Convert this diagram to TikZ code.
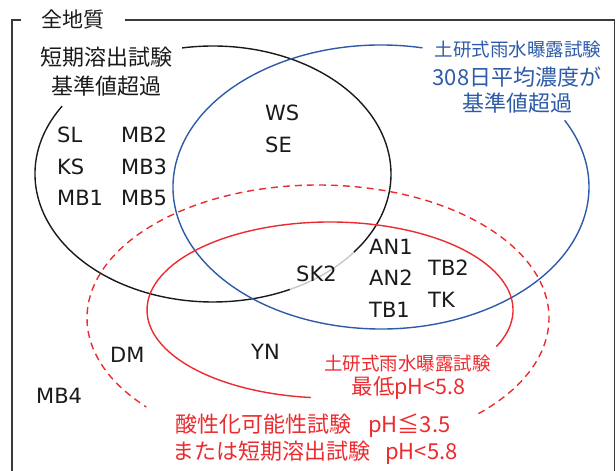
\documentclass[tikz,border=0pt]{standalone}
\usepackage{fontspec}
\setmainfont{DejaVu Sans}
\newfontfamily\cjkfont{Noto Sans CJK JP}
\definecolor{inkblack}{HTML}{1A1A1A}
\definecolor{framegray}{HTML}{3A3A3A}
\definecolor{rainblue}{HTML}{2E5BA8}
\definecolor{acidred}{HTML}{EC2B2F}
\definecolor{fadegray}{HTML}{C8C8C8}
\begin{document}
\begin{tikzpicture}[x=1pt,y=1pt,every node/.style={inner sep=0pt,text=inkblack},
  site/.style={anchor=west,font=\fontsize{21}{25}\selectfont},
  jp/.style={font=\cjkfont\fontsize{#1}{#1}\selectfont},
  ring/.style={line width=1.4pt}]
\useasboundingbox (0,0) rectangle (616,471);
% frame with title
\node[jp=21,inner xsep=20pt] (all) at (73,451) {全地質};
\draw[framegray,line width=1.5pt] (all.west) -- (12,451) -- (12,-2);
\draw[framegray,line width=1.5pt] (all.east) -- (614.5,451) -- (614.5,-2);
% short-term leaching set (black)
\draw[ring,inkblack] ([shift={(-37.7:178 and 128)}]213,297) arc[start angle=-37.7,end angle=100,x radius=178,y radius=128];
\draw[ring,inkblack] ([shift={(148:178 and 128)}]213,297) arc[start angle=148,end angle=295.6,x radius=178,y radius=128];
\draw[ring,fadegray] ([shift={(-64.4:178 and 128)}]213,297) arc[start angle=-64.4,end angle=-37.7,x radius=178,y radius=128];
% rain exposure 308-day mean (blue)
\draw[ring,rainblue] ([shift={(78.5:208 and 142)}]381,284) arc[start angle=78.5,end angle=388,x radius=208,y radius=142];
% rain exposure minimum pH (red)
\draw[ring,acidred] ([shift={(-24.6:183 and 88)}]330,161) arc[start angle=-24.6,end angle=264,x radius=183,y radius=88];
% acidification potential (red, dashed)
\draw[ring,acidred,dash pattern=on 7pt off 5pt] ([shift={(-46:231 and 133)}]318,153) arc[start angle=-46,end angle=222,x radius=231,y radius=133];
% set labels
\node[jp=22] (shortA) at (106,414) {短期溶出試験};
\node[jp=22] (shortB) at (106,385) {基準値超過};
\node[jp=18.5,text=rainblue] (rainA) at (518,421) {土研式雨水曝露試験};
\node[jp=22,text=rainblue] (rainB) at (517,394) {308日平均濃度が};
\node[jp=22,text=rainblue] (rainC) at (517,368) {基準値超過};
\node[jp=18.5,text=acidred] (lowA) at (407.5,107) {土研式雨水曝露試験};
\node[jp=21.5,text=acidred] (lowB) at (408.5,83) {最低pH<5.8};
\node[jp=22,text=acidred,anchor=west] (acidA) at (175,45) {酸性化可能性試験\hspace{17pt}pH≦3.5};
\node[jp=22,text=acidred,anchor=west] (acidB) at (172,18) {または短期溶出試験\hspace{15pt}pH<5.8};
% sites
\foreach \sname/\sx/\sy in {SL/57/336,KS/57/304,MB1/57/273,MB2/121/336,MB3/121/304,MB5/121/273,
  WS/265/358,SE/265/326,SK2/296/197,AN1/369/224,AN2/369/193,TB1/369/161,TB2/428/203,TK/428/171,
  DM/110/116,YN/251/119,MB4/36/75}
  \node[site] (\sname) at (\sx,\sy) {\sname};
\end{tikzpicture}
\end{document}
